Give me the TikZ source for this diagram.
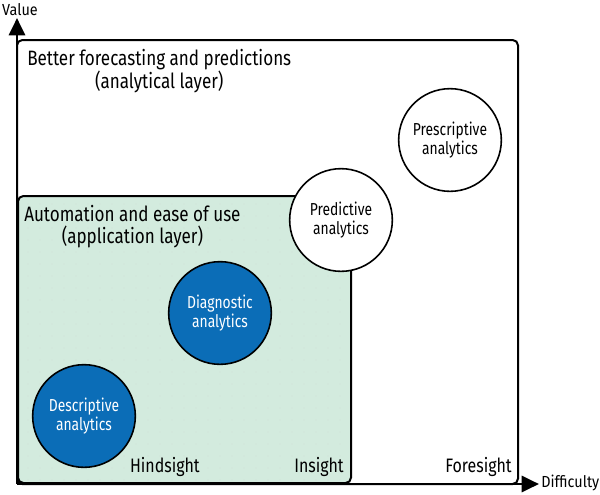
\documentclass[tikz,border=0pt]{standalone}
\usepackage{fontspec}
\setmainfont[FakeStretch=0.82]{Fira Sans}
\newfontfamily\narrowfont[FakeStretch=0.8]{Fira Sans}
\newfontfamily\axisfont[FakeStretch=0.9]{Fira Sans}
\usetikzlibrary{arrows.meta}
\definecolor{oblue}{HTML}{0B6DB7}
\definecolor{ogreen}{HTML}{D3EBDE}
\tikzset{
  axis/.style={line width=2.2pt,-{Triangle[length=13pt,width=12pt]}},
  bubble/.style={circle,draw=black,line width=1.2pt,minimum size=77pt,inner sep=0pt,align=center,font=\narrowfont\fontsize{13pt}{14pt}\selectfont},
  darkbubble/.style={bubble,fill=oblue,text=white},
  lightbubble/.style={bubble,fill=white},
  boxtitle/.style={anchor=north west,align=center,font=\fontsize{15.6pt}{16.5pt}\selectfont,inner sep=0pt},
  corner/.style={anchor=base east,font=\fontsize{14.6pt}{16pt}\selectfont,inner sep=0pt},
  axislabel/.style={font=\axisfont\fontsize{12pt}{14pt}\selectfont,inner sep=0pt}
}
\begin{document}
\begin{tikzpicture}[x=0.75pt,y=-0.75pt]
\useasboundingbox (0,0) rectangle (600,494);
% outer box
\draw[line width=1.5pt,rounded corners=4pt,fill=white] (17,40) rectangle (518,484);
% inner box
\draw[line width=1.5pt,rounded corners=4pt,fill=ogreen] (18,196) rectangle (351,483);
\foreach \i in {0,...,26}{\foreach \j in {0,...,23}{
  \fill[black!18] (28+12*\i,204+12*\j) circle (0.35pt);}}
% axes
\coordinate (o) at (17,484);
\coordinate (ytip) at (17,18);
\coordinate (xtip) at (539,484);
\draw[axis] (o) -- (ytip);
\draw[axis] (o) -- (xtip);
\node[axislabel,anchor=center] (vl) at (20,10) {Value};
\node[axislabel,anchor=west] (dl) at (541,483) {Difficulty};
% titles
\node[boxtitle] (t1) at (27,49) {Better forecasting and predictions\\(analytical layer)};
\node[boxtitle] (t2) at (24,205) {Automation and ease of use\\(application layer)};
% corner labels
\node[corner] (h) at (200,472.5) {Hindsight};
\node[corner] (i) at (344,472.5) {Insight};
\node[corner] (f) at (512,472.5) {Foresight};
% bubbles
\node[darkbubble] (desc) at (84,416) {Descriptive\\analytics};
\node[darkbubble] (diag) at (220,313) {Diagnostic\\analytics};
\node[lightbubble] (pred) at (341,220) {Predictive\\analytics};
\node[lightbubble] (pres) at (450,140) {Prescriptive\\analytics};
\end{tikzpicture}
\end{document}
